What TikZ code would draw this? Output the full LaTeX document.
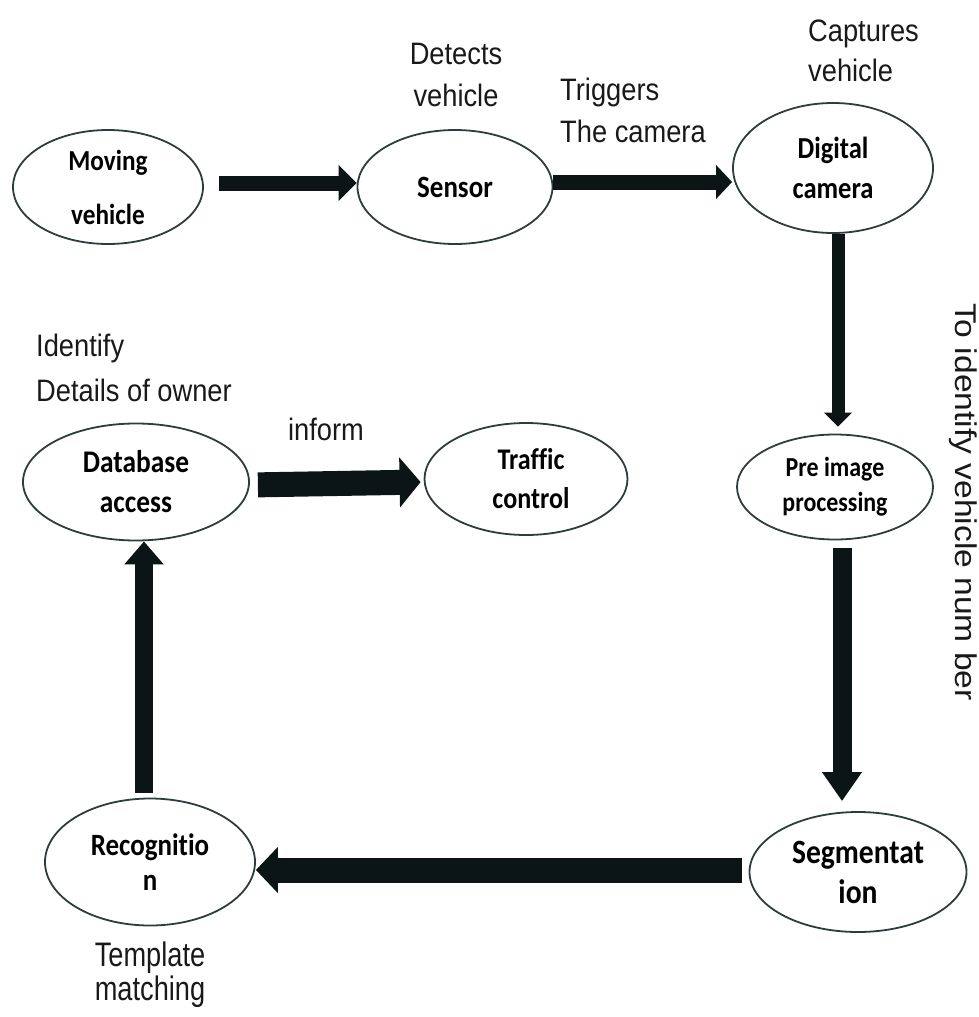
\documentclass[tikz,border=0pt]{standalone}
\usepackage{fontspec}
\usepackage{graphicx}
\usetikzlibrary{shapes.geometric,arrows.meta}
\newfontfamily\lblfont[FakeStretch=0.88]{Liberation Sans}
\newfontfamily\tmplfont[FakeStretch=0.8]{Liberation Sans}
\newfontfamily\vlblfont{Liberation Sans}
\newfontfamily\nfont[FakeStretch=0.87,Ligatures=NoCommon]{Carlito}
\definecolor{edgec}{HTML}{2D3D3D}
\definecolor{arrc}{HTML}{0B1515}
\tikzset{
  oval/.style={ellipse, draw=edgec, line width=1.8pt, fill=white, inner sep=0pt, align=center, text=black},
  lbl/.style={inner sep=0pt, align=#1, text=black!90},
  lbl/.default=center,
  fat/.style={draw=arrc, line width=#1},
}
\newcommand{\nsz}[2]{\nfont\bfseries\fontsize{#1}{#2}\selectfont}
\newcommand{\lsz}[2]{\lblfont\fontsize{#1}{#2}\selectfont}
\begin{document}
\begin{tikzpicture}[x=1pt,y=-1pt]
\useasboundingbox (0,0) rectangle (979,1017);
% ellipse nodes
\node[oval, minimum width=190pt, minimum height=114pt, font=\nsz{29}{40}] (mv) at (108,187) {Moving\\[14pt]vehicle};
\node[oval, minimum width=195pt, minimum height=114pt, font=\nsz{31}{40}] (sensor) at (455,187) {Sensor};
\node[oval, minimum width=200pt, minimum height=130pt, font=\nsz{30.5}{40}] (camera) at (833,168) {Digital\\camera};
\node[oval, minimum width=196pt, minimum height=105pt, font=\nsz{27.5}{35}] (pre) at (835,487) {Pre image\\processing};
\node[oval, minimum width=226pt, minimum height=117pt, font=\nsz{31.5}{40}] (db) at (136,482) {Database\\access};
\node[oval, minimum width=203pt, minimum height=112pt, font=\nsz{30}{39}] (traffic) at (526,479) {\hspace*{10pt}Traffic\\\hspace*{10pt}control};
\node[oval, minimum width=210pt, minimum height=127pt, font=\nsz{31}{35}] (rec) at (150,862) {Recognitio\\n};
\node[oval, minimum width=217pt, minimum height=120pt, font=\nsz{34}{40}] (seg) at (858,872) {Segmentat\\ion};
% labels
\node[lbl, font=\lsz{31}{42}] (detects) at (456,75) {Detects\\vehicle};
\node[lbl=left, anchor=west, font=\lsz{31}{42}] (triggers) at (560,110) {Triggers\\The camera};
\node[lbl=left, anchor=west, font=\lsz{31}{40}] (captures) at (808,51) {Captures\\vehicle};
\node[lbl=left, anchor=west, font=\lsz{31}{45}] (identify) at (36,368) {Identify\\Details of owner};
\node[lbl, anchor=base, font=\lsz{31}{40}] (inform) at (326,440) {inform};
\node[lbl, font=\tmplfont\fontsize{34}{34}\selectfont] (template) at (150,975) {Template\\matching};
\node[lbl, rotate=-90, font=\vlblfont\fontsize{30}{36}\selectfont] (vtext) at (963,502) {\scalebox{1.12}[1]{To identify vehicle num ber}};
% arrows
\draw[fat=15pt, -{Triangle[width=35pt,length=18pt]}, shorten <=15pt] ([yshift=4pt]mv.east) -- ([yshift=4pt]sensor.west);
\draw[fat=15pt, -{Triangle[width=33pt,length=16pt]}] ([yshift=5pt]sensor.east) -- ([yshift=-14pt]camera.west);
\draw[fat=13pt, -{Triangle[width=27pt,length=14pt]}, shorten >=7pt] ([xshift=5pt]camera.south) -- ([xshift=3pt]pre.north);
\draw[fat=19pt, -{Triangle[width=38pt,length=29pt]}, shorten <=7.5pt, shorten >=10pt] ([xshift=7pt]pre.south) -- ([xshift=-16pt]seg.north);
\draw[fat=25pt, -{Triangle[width=45pt,length=22pt]}, shorten <=7pt] ([yshift=2pt]seg.west) -- ([yshift=-8pt]rec.east);
\draw[fat=18pt, -{Triangle[width=38pt,length=23pt]}, shorten <=5pt] ([xshift=-6pt]rec.north) -- ([xshift=8pt]db.south);
\draw[fat=25pt, -{Triangle[width=49pt,length=21pt]}, shorten <=8pt, shorten >=3pt] ([yshift=-3pt]db.east) -- ([yshift=-3pt]traffic.west);
\end{tikzpicture}
\end{document}
